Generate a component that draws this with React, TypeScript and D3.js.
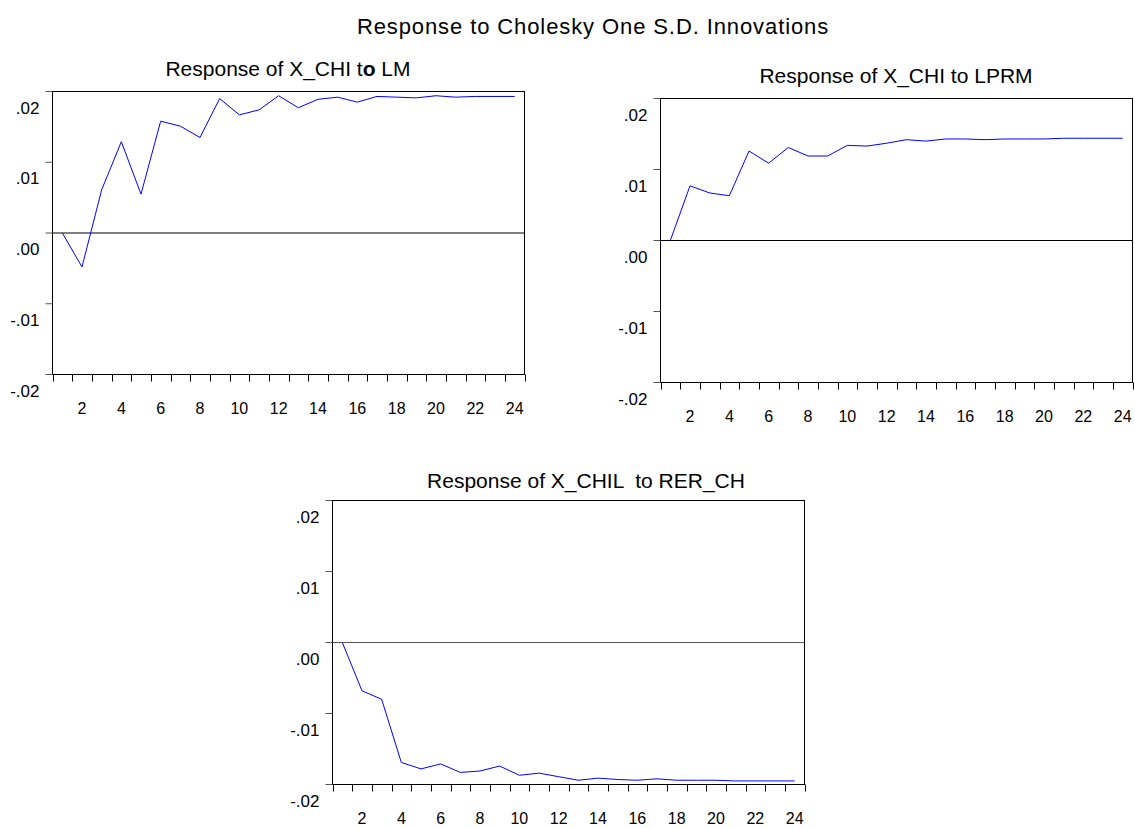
import * as d3 from "d3";

// impulse responses, periods 1..24
const periods = [1, 2, 3, 4, 5, 6, 7, 8, 9, 10, 11, 12, 13, 14, 15, 16, 17, 18, 19, 20, 21, 22, 23, 24];

const respLM = [
  0.0, -0.0048, 0.0061, 0.0129, 0.0055, 0.0158, 0.0151, 0.0135, 0.019, 0.0167, 0.0174, 0.0194,
  0.0177, 0.0189, 0.0192, 0.0185, 0.0193, 0.0192, 0.0191, 0.0194, 0.0192, 0.0193, 0.0193, 0.0193,
];

const respLPRM = [
  0.0, 0.0077, 0.0067, 0.0063, 0.0126, 0.0109, 0.0131, 0.0119, 0.0119, 0.0134, 0.0133, 0.0137,
  0.0142, 0.014, 0.0143, 0.0143, 0.0142, 0.0143, 0.0143, 0.0143, 0.0144, 0.0144, 0.0144, 0.0144,
];

const respRER = [
  0.0, -0.0068, -0.008, -0.0169, -0.0178, -0.0171, -0.0183, -0.0181, -0.0174, -0.0187, -0.0184,
  -0.0189, -0.0194, -0.0191, -0.0193, -0.0194, -0.0192, -0.0194, -0.0194, -0.0194, -0.0195,
  -0.0195, -0.0195, -0.0195,
];

const yTickValues = [0.02, 0.01, 0.0, -0.01, -0.02];
const yTickLabels = [".02", ".01", ".00", "-.01", "-.02"];
const xLabelPeriods = [2, 4, 6, 8, 10, 12, 14, 16, 18, 20, 22, 24];

const mainTitle = "Response to Cholesky One S.D. Innovations";

const font = "Arial, 'Liberation Sans', sans-serif";

type PanelProps = {
  left: number;
  top: number;
  width: number;
  height: number;
  values: number[];
  title: React.ReactNode;
  titleX: number;
  titleY: number;
  zeroColor?: string;
};

const Panel = ({ left, top, width, height, values, title, titleX, titleY, zeroColor = "#000" }: PanelProps) => {
  const x = d3.scaleBand<number>().domain(periods).range([left, left + width]);
  const bw = x.bandwidth();
  const y = d3.scaleLinear().domain([-0.02, 0.02]).range([top + height, top]);

  const line = d3
    .line<number>()
    .x((_, i) => x(periods[i])! + bw / 2)
    .y((d) => y(d));

  const bottom = top + height;
  const xTickPos = periods.map((p) => x(p)!).concat([left + width]);

  return (
    <g>
      <text x={titleX} y={titleY} textAnchor="middle" fontSize={21} fontFamily={font} fill="#000">
        {title}
      </text>
      <rect x={left} y={top} width={width} height={height} fill="none" stroke="#000" strokeWidth={1} />
      <line x1={left} x2={left + width} y1={y(0)} y2={y(0)} stroke={zeroColor} strokeWidth={1} />
      {yTickValues.map((v, i) => (
        <g key={"y" + i}>
          <line x1={left - 7} x2={left} y1={y(v)} y2={y(v)} stroke="#555" strokeWidth={1} />
          <text x={left - 13} y={y(v) + 22} textAnchor="end" fontSize={17} fontFamily={font} fill="#000">
            {yTickLabels[i]}
          </text>
        </g>
      ))}
      {xTickPos.map((px, i) => (
        <line key={"x" + i} x1={Math.round(px) + 0.5} x2={Math.round(px) + 0.5} y1={bottom} y2={bottom + 7} stroke="#000" strokeWidth={1} />
      ))}
      {xLabelPeriods.map((p) => (
        <text key={"l" + p} x={x(p)! + bw / 2} y={bottom + 39} textAnchor="middle" fontSize={16} fontFamily={font} fill="#000">
          {p}
        </text>
      ))}
      <path d={line(values) ?? ""} fill="none" stroke="#0000ff" strokeWidth={1} />
    </g>
  );
};

export default function App() {
  return (
    <svg width={1135} height={828} style={{ position: "absolute", left: 0, top: 0, background: "#fff" }}>
      <text x={593} y={34} textAnchor="middle" fontSize={22} fontFamily={font} letterSpacing={0.9} fill="#000">
        {mainTitle}
      </text>
      <Panel
        left={52.5}
        top={91.5}
        width={472}
        height={283}
        values={respLM}
        titleX={288}
        titleY={76}
        title={
          <>
            Response of X_CHI t<tspan fontWeight="bold">o</tspan> LM
          </>
        }
      />
      <Panel
        left={660.5}
        top={98.5}
        width={472}
        height={284}
        values={respLPRM}
        titleX={896}
        titleY={83}
        title="Response of X_CHI to LPRM"
      />
      <Panel
        left={332.5}
        top={500.5}
        width={472}
        height={284}
        values={respRER}
        titleX={586}
        titleY={488}
        zeroColor="#555"
        title={<tspan style={{ whiteSpace: "pre" }}>{"Response of X_CHIL  to RER_CH"}</tspan>}
      />
    </svg>
  );
}
